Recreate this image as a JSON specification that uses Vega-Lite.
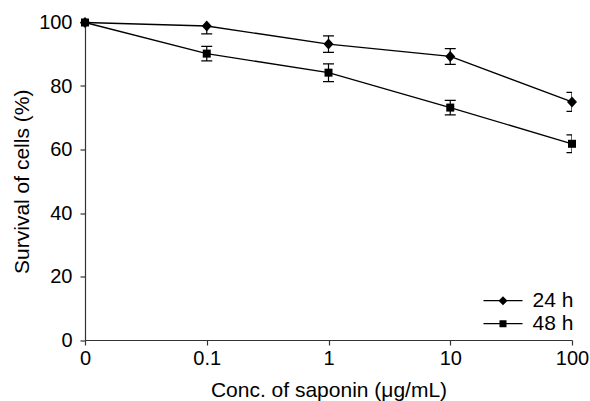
{
  "$schema": "https://vega.github.io/schema/vega-lite/v6.json",
  "width": 487,
  "height": 317.5,
  "autosize": {"type": "none"},
  "padding": {"left": 85, "top": 22.5, "right": 18, "bottom": 61},
  "config": {
    "font": "Liberation Sans",
    "view": {"stroke": null},
    "axis": {
      "domainColor": "#333",
      "tickColor": "#333",
      "labelColor": "#000",
      "titleColor": "#000",
      "labelFont": "Liberation Sans",
      "titleFont": "Liberation Sans",
      "labelFontSize": 20,
      "titleFontSize": 21,
      "titleFontWeight": "normal",
      "tickSize": 5,
      "grid": false,
      "domainWidth": 1.2,
      "tickWidth": 1.2
    }
  },
  "data": {
    "values": [
      {"conc": "0", "series": "24 h", "survival": 100, "lo": null, "hi": null},
      {"conc": "0.1", "series": "24 h", "survival": 98.9, "lo": 96.4, "hi": 101.4},
      {"conc": "1", "series": "24 h", "survival": 93.2, "lo": 90.6, "hi": 95.8},
      {"conc": "10", "series": "24 h", "survival": 89.3, "lo": 86.8, "hi": 91.8},
      {"conc": "100", "series": "24 h", "survival": 75.0, "lo": 72.0, "hi": 78.0},
      {"conc": "0", "series": "48 h", "survival": 100, "lo": null, "hi": null},
      {"conc": "0.1", "series": "48 h", "survival": 90.2, "lo": 87.9, "hi": 92.5},
      {"conc": "1", "series": "48 h", "survival": 84.2, "lo": 81.4, "hi": 87.0},
      {"conc": "10", "series": "48 h", "survival": 73.2, "lo": 70.9, "hi": 75.5},
      {"conc": "100", "series": "48 h", "survival": 61.8, "lo": 59.0, "hi": 64.6}
    ]
  },
  "encoding": {
    "x": {
      "field": "conc",
      "type": "ordinal",
      "sort": ["0", "0.1", "1", "10", "100"],
      "scale": {"type": "point", "padding": 0},
      "axis": {"title": "Conc. of saponin (μg/mL)", "labelAngle": 0, "labelPadding": 3, "titlePadding": 11}
    },
    "y": {"field": "survival", "type": "quantitative", "scale": {"domain": [0, 100]}, "axis": {"title": "Survival of cells (%)", "values": [0, 20, 40, 60, 80, 100], "labelPadding": 8, "titlePadding": 6}}
  },
  "layer": [
    {
      "mark": {"type": "rule", "clip": true, "color": "black", "strokeWidth": 1.2},
      "encoding": {
        "y": {"field": "lo", "type": "quantitative", "scale": {"domain": [0, 100]}, "axis": {"title": "Survival of cells (%)", "values": [0, 20, 40, 60, 80, 100], "labelPadding": 8, "titlePadding": 6}},
        "y2": {"field": "hi"}
      }
    },
    {
      "mark": {"type": "tick", "clip": true, "color": "black", "thickness": 1.2, "size": 11, "opacity": 1},
      "encoding": {
        "y": {"field": "lo", "type": "quantitative", "scale": {"domain": [0, 100]}, "axis": {"title": "Survival of cells (%)", "values": [0, 20, 40, 60, 80, 100], "labelPadding": 8, "titlePadding": 6}}
      }
    },
    {
      "mark": {"type": "tick", "clip": true, "color": "black", "thickness": 1.2, "size": 11, "opacity": 1},
      "encoding": {
        "y": {"field": "hi", "type": "quantitative", "scale": {"domain": [0, 100]}, "axis": {"title": "Survival of cells (%)", "values": [0, 20, 40, 60, 80, 100], "labelPadding": 8, "titlePadding": 6}}
      }
    },
    {
      "mark": {"type": "line", "color": "black", "strokeWidth": 1.3},
      "encoding": {
        "detail": {"field": "series"}
      }
    },
    {
      "transform": [{"filter": "datum.series === '24 h'"}],
      "mark": {"type": "point", "filled": true, "opacity": 1, "color": "black", "size": 100, "shape": "M-1,0L0,-1.1L1,0L0,1.1Z"}
    },
    {
      "transform": [{"filter": "datum.series === '48 h'"}],
      "mark": {"type": "point", "filled": true, "opacity": 1, "color": "black", "size": 100, "shape": "M-0.8,-0.8H0.8V0.8H-0.8Z"}
    },
    {
      "transform": [{"filter": "false"}],
      "mark": {"type": "point", "filled": true, "opacity": 1, "color": "black", "size": 100},
      "encoding": {
        "shape": {
          "field": "series",
          "type": "nominal",
          "scale": {"domain": ["24 h", "48 h"], "range": ["M-3.9,-0.13L3.9,-0.13L3.9,0.13L-3.9,0.13Z M0,-0.9L0.9,0L0,0.9L-0.9,0Z", "M-3.9,-0.13L3.9,-0.13L3.9,0.13L-3.9,0.13Z M-0.7,-0.7L0.7,-0.7L0.7,0.7L-0.7,0.7Z"]},
          "legend": {
            "title": null,
            "orient": "none",
            "legendX": 407.5,
            "legendY": 267.7,
            "padding": 0,
            "symbolSize": 100,
            "labelFont": "Liberation Sans",
            "labelFontSize": 21,
            "labelColor": "#000",
            "labelOffset": 19,
            "rowPadding": 1,
            "symbolFillColor": "black",
            "symbolOpacity": 1
          }
        }
      }
    }
  ]
}
